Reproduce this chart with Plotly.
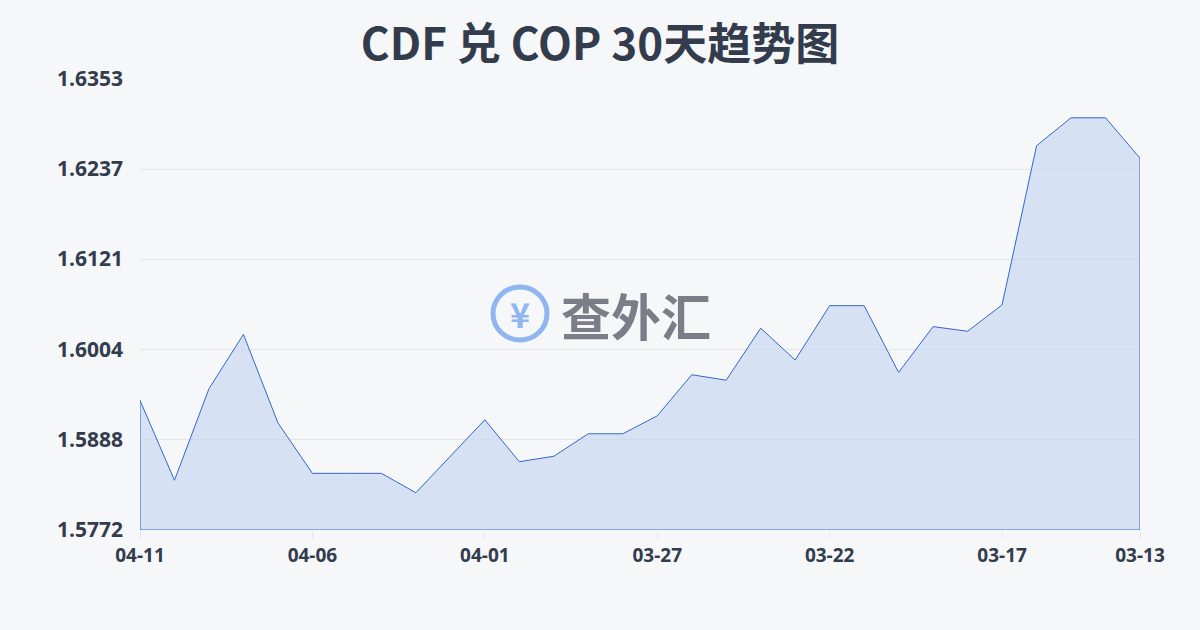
import plotly.graph_objects as go

dates = ["04-11", "04-10", "04-09", "04-08", "04-07", "04-06", "04-05", "04-04", "04-03", "04-02",
         "04-01", "03-31", "03-30", "03-29", "03-28", "03-27", "03-26", "03-25", "03-24", "03-23",
         "03-22", "03-21", "03-20", "03-19", "03-18", "03-17", "03-16", "03-15", "03-14", "03-13"]
rates = [1.5939, 1.5836, 1.5954, 1.6024, 1.5910, 1.5845, 1.5845, 1.5845, 1.5820, 1.5867,
         1.5914, 1.5860, 1.5867, 1.5896, 1.5896, 1.5919, 1.5972, 1.5965, 1.6032, 1.5991,
         1.6061, 1.6061, 1.5975, 1.6034, 1.6028, 1.6062, 1.6267, 1.6303, 1.6303, 1.6251]
y_ticks = [1.5772, 1.5888, 1.6004, 1.6121, 1.6237, 1.6353]
x_ticks = ["04-11", "04-06", "04-01", "03-27", "03-22", "03-17", "03-13"]
title = "CDF 兑 COP 30天趋势图"
baseline = y_ticks[0]

font_cjk = "Noto Sans CJK SC, Noto Sans, sans-serif"
font_num = "Open Sans, Noto Sans, sans-serif"
text_color = "#333c4c"

poly_x = dates + [dates[-1], dates[0], dates[0]]
poly_y = rates + [baseline, baseline, rates[0]]

fig = go.Figure()
fig.add_trace(go.Scatter(
    x=poly_x, y=poly_y, mode="lines", fill="toself",
    fillcolor="rgba(190,208,240,0.55)",
    line=dict(color="#3566cc", width=1),
    hoverinfo="skip", showlegend=False,
))

fig.update_layout(
    width=1200, height=630,
    margin=dict(l=140, r=60, t=79, b=100),
    paper_bgcolor="#f5f7f9", plot_bgcolor="rgba(0,0,0,0)",
    title=dict(text=title, x=0.5, xanchor="center", y=0.929, yanchor="middle",
               font=dict(family=font_cjk, size=44, color=text_color, weight="bold")),
    xaxis=dict(type="category", categoryorder="array", categoryarray=dates,
               range=[0, len(dates) - 1], tickmode="array", tickvals=x_ticks, ticktext=x_ticks,
               showgrid=False, zeroline=False, showline=False,
               ticks="outside", ticklen=8, tickcolor="#e3e6ea", tickwidth=1,
               tickfont=dict(family=font_num, size=19, color=text_color, weight="bold")),
    yaxis=dict(range=[y_ticks[0], y_ticks[-1]], tickmode="array", tickvals=y_ticks,
               ticktext=[f"{v:.4f}" for v in y_ticks],
               showgrid=True, gridcolor="#e3e6ea", gridwidth=1, zeroline=False, showline=False,
               ticks="", ticklabelstandoff=16,
               tickfont=dict(family=font_num, size=21, color=text_color, weight="bold")),
)

# watermark
fig.add_shape(type="circle", xref="paper", yref="paper",
              x0=(493 - 140) / 1000, x1=(547 - 140) / 1000,
              y0=(530 - 340) / 451, y1=(530 - 287) / 451,
              line=dict(color="#8fb6f0", width=5), fillcolor="rgba(0,0,0,0)")
fig.add_annotation(x=(520 - 140) / 1000, y=(530 - 313) / 451, xref="paper", yref="paper",
                   text="¥", showarrow=False,
                   font=dict(family=font_cjk, size=34, color="#8fb6f0", weight="bold"))
fig.add_annotation(x=(636 - 140) / 1000, y=(530 - 314) / 451, xref="paper", yref="paper",
                   text="查外汇", showarrow=False,
                   font=dict(family=font_cjk, size=50, color="#7b7e86", weight="bold"))

fig.write_html("out.html", config={"displayModeBar": False},
               post_script="document.body.style.margin='0';")
